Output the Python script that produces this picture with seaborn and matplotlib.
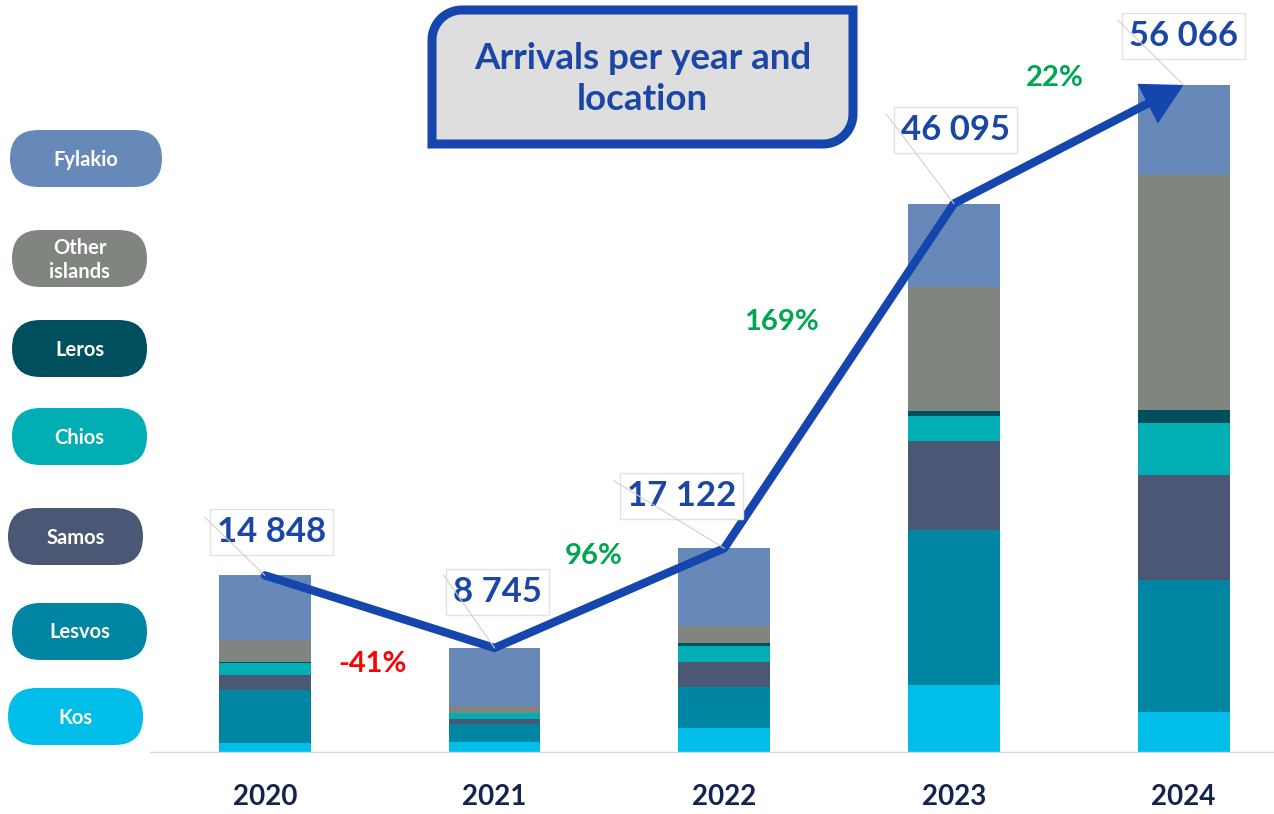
import numpy as np
import pandas as pd
import seaborn as sns
import matplotlib.pyplot as plt
from matplotlib.patches import FancyBboxPatch, Polygon

sns.set_style("white")
plt.rcParams['font.family'] = ['Lato', 'DejaVu Sans']

years = ['2020', '2021', '2022', '2023', '2024']
totals = [14848, 8745, 17122, 46095, 56066]
kos = [730, 840, 2020, 5670, 3400]
lesvos = [4480, 1510, 3450, 12990, 11030]
samos = [1260, 390, 2100, 7500, 8840]
chios = [1010, 530, 1310, 2050, 4380]
leros = [50, 45, 250, 430, 1130]
other_islands = [1850, 560, 1490, 10410, 19720]
fylakio = [5468, 4870, 6502, 7045, 7566]

locations = ['Kos', 'Lesvos', 'Samos', 'Chios', 'Leros', 'Other\nislands', 'Fylakio']
series = [kos, lesvos, samos, chios, leros, other_islands, fylakio]
colors = ['#00BDEA', '#0085A3', '#4A5875', '#00AEB4', '#004F5F', '#80857F', '#6689BA']

LINE_BLUE = '#1446AE'
LABEL_BLUE = '#1B46A6'

df = pd.DataFrame({'year': years})
cum = np.zeros(len(years))
for name, vals in zip(locations, series):
    cum = cum + np.array(vals)
    df[name] = cum

fig = plt.figure(figsize=(12.74, 8.14), dpi=100)

# overlay in pixel coordinates for title box and legend pills
bg = fig.add_axes([0, 0, 1, 1], zorder=0)
bg.set_xlim(0, 1274)
bg.set_ylim(814, 0)
bg.axis('off')

ax = fig.add_axes([150 / 1274, 62 / 814, 1125.5 / 1274, 713.8 / 814], zorder=1)
ax.patch.set_alpha(0)

# stacked bars: draw cumulative heights from top layer down
for name, c in reversed(list(zip(locations, colors))):
    sns.barplot(data=df, x='year', y=name, color=c, width=0.4, saturation=1,
                linewidth=0, ax=ax)

ax.set_xlabel('')
ax.set_ylabel('')
ax.set_yticks([])
for s in ['top', 'right', 'left']:
    ax.spines[s].set_visible(False)
ax.spines['bottom'].set_color('#D9D9D9')
ax.spines['bottom'].set_linewidth(1)
ax.set_xticks(np.arange(-0.5, 4, 1), minor=True)
ax.tick_params(axis='x', which='minor', length=8, color='#D9D9D9', width=1)
ax.tick_params(axis='x', which='major', length=0, pad=23)
for t in ax.get_xticklabels():
    t.set_fontsize(20)
    t.set_fontweight('bold')
    t.set_color('#13244F')
ax.set_xlim(-0.5, 4.4)
ax.set_ylim(0, 60000)

# total line with arrow
xs = np.arange(len(years))
ax.plot(xs[:4], totals[:4], color=LINE_BLUE, lw=6, solid_capstyle='round',
        solid_joinstyle='round', zorder=5)
ax.annotate('', xy=(xs[4], totals[4]), xytext=(xs[3], totals[3]),
            arrowprops=dict(arrowstyle='-|>,head_length=1.0,head_width=0.55',
                            lw=6, color=LINE_BLUE, shrinkA=0, shrinkB=0,
                            mutation_scale=20, joinstyle='miter'),
            zorder=5)

# total labels
label_off = [(7, 43), (3, 56), (-43, 52), (2, 74), (0, 49)]
leader_off = [(-60, 58), (-51, 73), (-111, 68), (-68, 90), (-66, 65)]
for i, tot in enumerate(totals):
    txt = f'{tot:,}'.replace(',', ' ')
    ax.annotate(txt, xy=(i, tot), xytext=label_off[i], textcoords='offset pixels',
                ha='center', va='center', fontsize=25, fontweight='bold',
                color=LABEL_BLUE, zorder=6,
                bbox=dict(boxstyle='square,pad=0.2', fc='white', ec='#E3E3E3', lw=1))
    ax.annotate('', xy=(i, tot), xytext=leader_off[i], textcoords='offset pixels',
                arrowprops=dict(arrowstyle='-', color='#D0D0D0', lw=0.8,
                                shrinkA=0, shrinkB=0), zorder=7)

# growth labels
growth_x = [0.47, 1.43, 2.25, 3.44]
growth_y = [7400, 16480, 36150, 56650]
for k in range(4):
    g = round((totals[k + 1] / totals[k] - 1) * 100)
    ax.text(growth_x[k], growth_y[k], f'{g}%', ha='center', va='center',
            fontsize=21, fontweight='bold',
            color='#FF0000' if g < 0 else '#00A651', zorder=6)

# title box (rounded top-left and bottom-right corners)
L, T, R, B, r = 432, 10, 853, 144, 30
th1 = np.linspace(np.pi, 1.5 * np.pi, 20)
th2 = np.linspace(0, 0.5 * np.pi, 20)
verts = ([(L + r + r * np.cos(t), T + r + r * np.sin(t)) for t in th1]
         + [(R, T)]
         + [(R - r + r * np.cos(t), B - r + r * np.sin(t)) for t in th2]
         + [(L, B)])
bg.add_patch(Polygon(verts, closed=True, fc='#DEDEDE', ec=LINE_BLUE, lw=6.5,
                     joinstyle='miter'))
bg.text((L + R) / 2, 79, 'Arrivals per year and\nlocation', ha='center', va='center',
        fontsize=26.5, fontweight='bold', color=LABEL_BLUE, linespacing=1.3)

# legend pills
pill_x = [8, 12, 8, 12, 12, 12, 10]
pill_y = [688, 603, 508, 408, 320, 230, 130]
pill_w = [135, 135, 135, 135, 135, 135, 152]
for name, c, px, py, pw in zip(locations, colors, pill_x, pill_y, pill_w):
    bg.add_patch(FancyBboxPatch((px, py), pw, 57,
                                boxstyle='round,pad=0,rounding_size=28.5',
                                fc=c, ec='none'))
    bg.text(px + pw / 2, py + 29.5, name, ha='center', va='center', fontsize=14.5,
            fontweight='bold', color='white', linespacing=1.25)

fig.savefig('out.png', dpi=100)
